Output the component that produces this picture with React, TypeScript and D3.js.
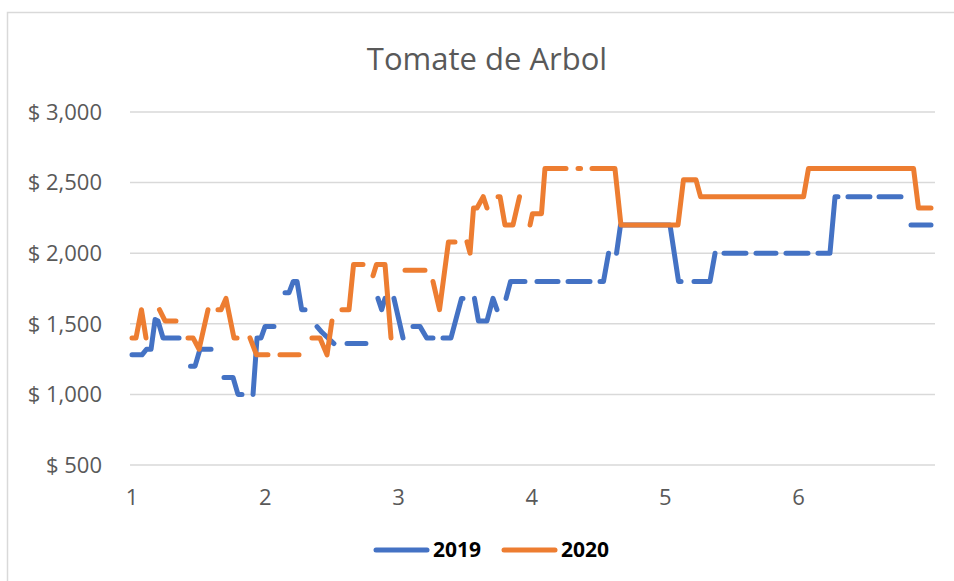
import React from 'react';
import * as d3 from 'd3';

type Pt = [number, number] | null;

const title = 'Tomate de Arbol';
const monthTicks = [1, 2, 3, 4, 5, 6];
const priceTicks = [500, 1000, 1500, 2000, 2500, 3000];
const seriesNames = ['2019', '2020'];
const seriesColors = ['#4472C4', '#ED7D31'];

// price by position on the month axis, null = no data (gap)
const prices2019: Pt[] = [
  [1.0, 1280], [1.075, 1280], [1.109, 1320], [1.143, 1320], [1.173, 1530], [1.195, 1520], [1.233, 1400], [1.353, 1400], null,
  [1.439, 1200], [1.473, 1200], [1.51, 1320], [1.593, 1320], null,
  [1.69, 1120], [1.758, 1120], [1.795, 1000], [1.825, 1000], null,
  [1.908, 1000], [1.938, 1400], [1.968, 1400], [1.998, 1480], [2.065, 1480], null,
  [2.148, 1720], [2.178, 1720], [2.21, 1800], [2.238, 1800], [2.273, 1600], [2.298, 1600], null,
  [2.388, 1480], [2.425, 1440], [2.515, 1360], null,
  [2.613, 1360], [2.755, 1360], null,
  [2.845, 1680], [2.873, 1600], [2.898, 1680], null,
  [2.965, 1680], [3.033, 1400], null,
  [3.108, 1480], [3.161, 1480], [3.211, 1400], [3.258, 1400], null,
  [3.333, 1400], [3.393, 1400], [3.472, 1680], [3.483, 1680], null,
  [3.569, 1680], [3.599, 1520], [3.663, 1520], [3.708, 1680], [3.738, 1600], null,
  [3.806, 1680], [3.84, 1800], [3.948, 1800], null,
  [4.038, 1800], [4.196, 1800], null,
  [4.271, 1800], [4.436, 1800], null,
  [4.511, 1800], [4.537, 1800], [4.575, 2000], null,
  [4.635, 2000], [4.665, 2200], [5.036, 2200], [5.1, 1800], [5.119, 1800], null,
  [5.216, 1800], [5.336, 1800], [5.374, 2000], null,
  [5.441, 2000], [5.606, 2000], null,
  [5.681, 2000], [5.831, 2000], null,
  [5.906, 2000], [6.071, 2000], null,
  [6.146, 2000], [6.236, 2000], [6.274, 2400], [6.296, 2400], null,
  [6.371, 2400], [6.536, 2400], null,
  [6.604, 2400], [6.769, 2400], null,
  [6.844, 2200], [6.994, 2200],
];

const prices2020: Pt[] = [
  [1.0, 1400], [1.03, 1400], [1.071, 1600], [1.105, 1400], null,
  [1.206, 1600], [1.248, 1520], [1.33, 1520], null,
  [1.42, 1400], [1.458, 1400], [1.503, 1320], [1.57, 1600], null,
  [1.645, 1600], [1.668, 1600], [1.705, 1680], [1.765, 1400], [1.788, 1400], null,
  [1.885, 1400], [1.934, 1280], [2.02, 1280], null,
  [2.11, 1280], [2.253, 1280], null,
  [2.35, 1400], [2.41, 1400], [2.463, 1280], [2.5, 1520], null,
  [2.575, 1600], [2.628, 1600], [2.662, 1920], [2.733, 1920], null,
  [2.808, 1840], [2.834, 1920], [2.898, 1920], [2.943, 1400], null,
  [3.048, 1880], [3.198, 1880], null,
  [3.258, 1800], [3.307, 1600], [3.374, 2080], [3.423, 2080], null,
  [3.513, 2080], [3.536, 2000], [3.562, 2320], [3.588, 2320], [3.635, 2400], [3.663, 2320], null,
  [3.746, 2400], [3.761, 2400], [3.798, 2200], [3.858, 2200], [3.907, 2400], null,
  [3.986, 2200], [4.004, 2280], [4.072, 2280], [4.098, 2600], [4.256, 2600], null,
  [4.346, 2600], [4.365, 2600], null,
  [4.451, 2600], [4.623, 2600], [4.668, 2200], [5.096, 2200], [5.137, 2520], [5.231, 2520],
  [5.265, 2400], [6.038, 2400], [6.075, 2600], [6.863, 2600], [6.9, 2320], [6.994, 2320],
];

const allSeries = [prices2019, prices2020];

const W = 954;
const H = 581;
const font = '"Open Sans", "Noto Sans", sans-serif';

export default function App() {
  const x = d3.scaleLinear().domain([0.985, 7.024]).range([130, 935]);
  const y = d3.scaleLinear().domain([500, 3000]).range([465, 112]);

  const line = d3
    .line<Pt>()
    .defined((d) => d !== null)
    .x((d) => x((d as [number, number])[0]))
    .y((d) => y((d as [number, number])[1]));

  return (
    <svg
      width={W}
      height={H}
      style={{ position: 'absolute', left: 0, top: 0, background: '#fff' }}
    >
      <rect x={7.5} y={12.5} width={980} height={620} fill="#fff" stroke="#d9d9d9" strokeWidth={1.5} />

      <text x={487} y={70} textAnchor="middle" fontFamily={font} fontSize={31} fill="#595959">
        {title}
      </text>

      {/* grid */}
      {priceTicks.map((t) => (
        <line key={t} x1={130} x2={935} y1={y(t)} y2={y(t)} stroke="#d9d9d9" strokeWidth={1.5} />
      ))}
      {priceTicks.map((t) => (
        <text
          key={'l' + t}
          x={102}
          y={y(t)}
          dy="0.35em"
          textAnchor="end"
          fontFamily={font}
          fontSize={22}
          fill="#595959"
        >
          {'$ ' + d3.format(',')(t)}
        </text>
      ))}
      {monthTicks.map((m) => (
        <text
          key={'m' + m}
          x={x(m)}
          y={505}
          textAnchor="middle"
          fontFamily={font}
          fontSize={22}
          fill="#595959"
        >
          {m}
        </text>
      ))}

      {allSeries.map((s, i) => (
        <path
          key={i}
          d={line(s) || ''}
          fill="none"
          stroke={seriesColors[i]}
          strokeWidth={5}
          strokeLinecap="round"
          strokeLinejoin="round"
        />
      ))}

      {/* legend */}
      {seriesNames.map((n, i) => (
        <g key={n} transform={`translate(${376 + i * 128},550)`}>
          <line x1={0} x2={51} y1={0} y2={0} stroke={seriesColors[i]} strokeWidth={5} strokeLinecap="round" />
          <text x={57} y={0} dy="0.35em" fontFamily={font} fontSize={21} fontWeight="bold" fill="#000">
            {n}
          </text>
        </g>
      ))}
    </svg>
  );
}
